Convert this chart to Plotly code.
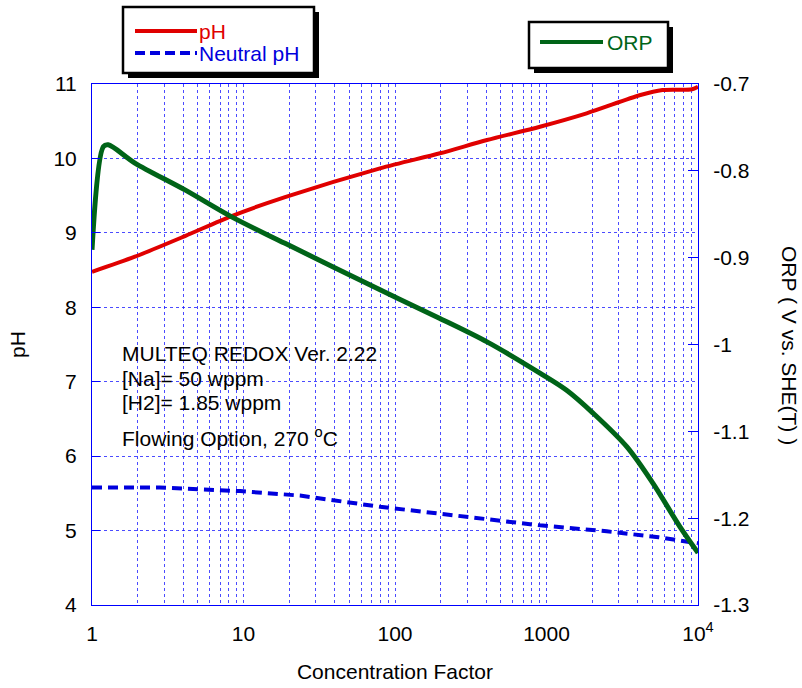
import plotly.graph_objects as go

# ---- data ----
ph_cf = [1, 1.92, 4.11, 8.35, 18.8, 79.6, 198, 405, 905, 1840, 4170, 5830, 9130, 10000]
ph_val = [8.477, 8.68, 8.957, 9.226, 9.48, 9.867, 10.069, 10.247, 10.426, 10.606, 10.852, 10.919, 10.929, 10.964]

neu_cf = [1, 2.8, 9.5, 23.6, 79.6, 198, 905, 2500, 5500, 10000]
neu_val = [5.58, 5.58, 5.53, 5.47, 5.32, 5.23, 5.07, 4.99, 4.91, 4.83]

orp_cf = [1, 1.19, 1.28, 1.92, 4.11, 8.35, 18.8, 79.6, 198, 405, 905, 1365, 2027, 3397, 5046, 7605, 10000]
orp_val = [-0.891, -0.772, -0.770, -0.791, -0.822, -0.853, -0.8835, -0.937, -0.970, -0.997, -1.033,
           -1.053, -1.079, -1.118, -1.160, -1.210, -1.240]

x_major = [1, 10, 100, 1000, 10000]
x_major_text = ["1", "10", "100", "1000", "10<sup>4</sup>"]
y_left_ticks = [4, 5, 6, 7, 8, 9, 10, 11]
y_right_ticks = [-1.3, -1.2, -1.1, -1.0, -0.9, -0.8, -0.7]
y_right_text = ["-1.3", "-1.2", "-1.1", "-1", "-0.9", "-0.8", "-0.7"]

RED = "#e00000"
BLUE = "#0000dd"
GREEN = "#006418"
AXBLUE = "#0000ff"
GRID = "rgba(30,30,255,0.8)"
FONT = "Liberation Sans, Arial, sans-serif"
FS = 21

x_minor = [m * 10 ** d for d in range(4) for m in range(2, 10)]

fig = go.Figure()
fig.add_trace(go.Scatter(x=ph_cf, y=ph_val, mode="lines", name="pH",
                         line=dict(color=RED, width=4, shape="spline", smoothing=0.8),
                         showlegend=False))
fig.add_trace(go.Scatter(x=neu_cf, y=neu_val, mode="lines", name="Neutral pH",
                         line=dict(color=BLUE, width=4, dash="10px,6px"), showlegend=False))
fig.add_trace(go.Scatter(x=orp_cf, y=orp_val, mode="lines", name="ORP", yaxis="y2",
                         line=dict(color=GREEN, width=5, shape="spline", smoothing=0.9),
                         showlegend=False))

fig.update_layout(
    width=802, height=688,
    margin=dict(l=92, r=104, t=84, b=83),
    paper_bgcolor="white", plot_bgcolor="white",
    font=dict(family=FONT, size=FS, color="black"),
    xaxis=dict(type="log", range=[0, 4], tickvals=x_major, ticktext=x_major_text,
               showgrid=True, gridcolor=GRID, griddash="3px,3px", gridwidth=1,
               minor=dict(tickmode="array", tickvals=x_minor, showgrid=True,
                          gridcolor=GRID, griddash="3px,3px", gridwidth=1, ticks=""),
               showline=True, linecolor=AXBLUE, linewidth=1, mirror=True,
               ticks="", ticklabelstandoff=10, zeroline=False, automargin=False,
               title=dict(text="Concentration Factor", font=dict(size=FS), standoff=20)),
    yaxis=dict(range=[4, 11], tickvals=y_left_ticks, showgrid=True, gridcolor=GRID,
               griddash="3px,3px", gridwidth=1, showline=True, linecolor=AXBLUE,
               linewidth=1, mirror=True, ticks="inside", ticklen=8, tickcolor=AXBLUE,
               ticklabelstandoff=10, zeroline=False, automargin=False,
               title=dict(text="pH", font=dict(size=FS), standoff=22)),
    yaxis2=dict(range=[-1.3, -0.7], overlaying="y", side="right", tickvals=y_right_ticks,
                ticktext=y_right_text, showgrid=False, showline=True, linecolor=AXBLUE,
                linewidth=1, ticks="inside", ticklen=10, tickcolor=AXBLUE,
                ticklabelstandoff=10, zeroline=False, automargin=False),
)

# right axis title (reads top-to-bottom)
fig.add_annotation(text="ORP ( V vs. SHE(T) )", xref="paper", yref="paper",
                   x=(790 - 92) / 606, y=(605 - 345) / 521, textangle=90, showarrow=False,
                   font=dict(size=FS), xanchor="center", yanchor="middle")

# info text
info = [("MULTEQ REDOX Ver. 2.22", 353), ("[Na]= 50 wppm", 378),
        ("[H2]= 1.85 wppm", 402), ("Flowing Option, 270 <sup>o</sup>C", 437)]
for t, py in info:
    fig.add_annotation(text=t, xref="paper", yref="paper", x=(120 - 92) / 606,
                       y=(605 - py) / 521, xanchor="left", yanchor="middle",
                       showarrow=False, font=dict(size=FS))

# legend boxes (pixel-sized shapes anchored to plot's top-left corner)
def pbox(x0, y0, x1, y1, **kw):
    fig.add_shape(type="rect", xref="paper", yref="paper", xsizemode="pixel",
                  ysizemode="pixel", xanchor=0, yanchor=1,
                  x0=x0 - 92, x1=x1 - 92, y0=84 - y0, y1=84 - y1, **kw)

def pline(x0, x1, y, **kw):
    fig.add_shape(type="line", xref="paper", yref="paper", xsizemode="pixel",
                  ysizemode="pixel", xanchor=0, yanchor=1,
                  x0=x0 - 92, x1=x1 - 92, y0=84 - y, y1=84 - y, **kw)

def ptext(t, x, y, color):
    fig.add_annotation(text=t, xref="paper", yref="paper", x=0, y=1,
                       xshift=x - 92, yshift=84 - y, xanchor="left", yanchor="middle",
                       showarrow=False, font=dict(size=FS, color=color))

SH = 5
pbox(123 + SH, 7 + SH, 314 + SH, 73 + SH, fillcolor="black", line=dict(width=0))
pbox(123, 7, 314, 73, fillcolor="white", line=dict(color="black", width=2.5))
pline(135, 197, 31, line=dict(color=RED, width=4))
pline(135, 197, 53, line=dict(color=BLUE, width=4, dash="10px,5px"))
ptext("pH", 197, 31, RED)
ptext("Neutral pH", 197, 53, BLUE)

pbox(529 + SH, 22 + SH, 668 + SH, 68 + SH, fillcolor="black", line=dict(width=0))
pbox(529, 22, 668, 68, fillcolor="white", line=dict(color="black", width=2.5))
pline(540, 603, 42, line=dict(color=GREEN, width=4))
ptext("ORP", 605, 42, GREEN)

fig.write_html("out.html")
